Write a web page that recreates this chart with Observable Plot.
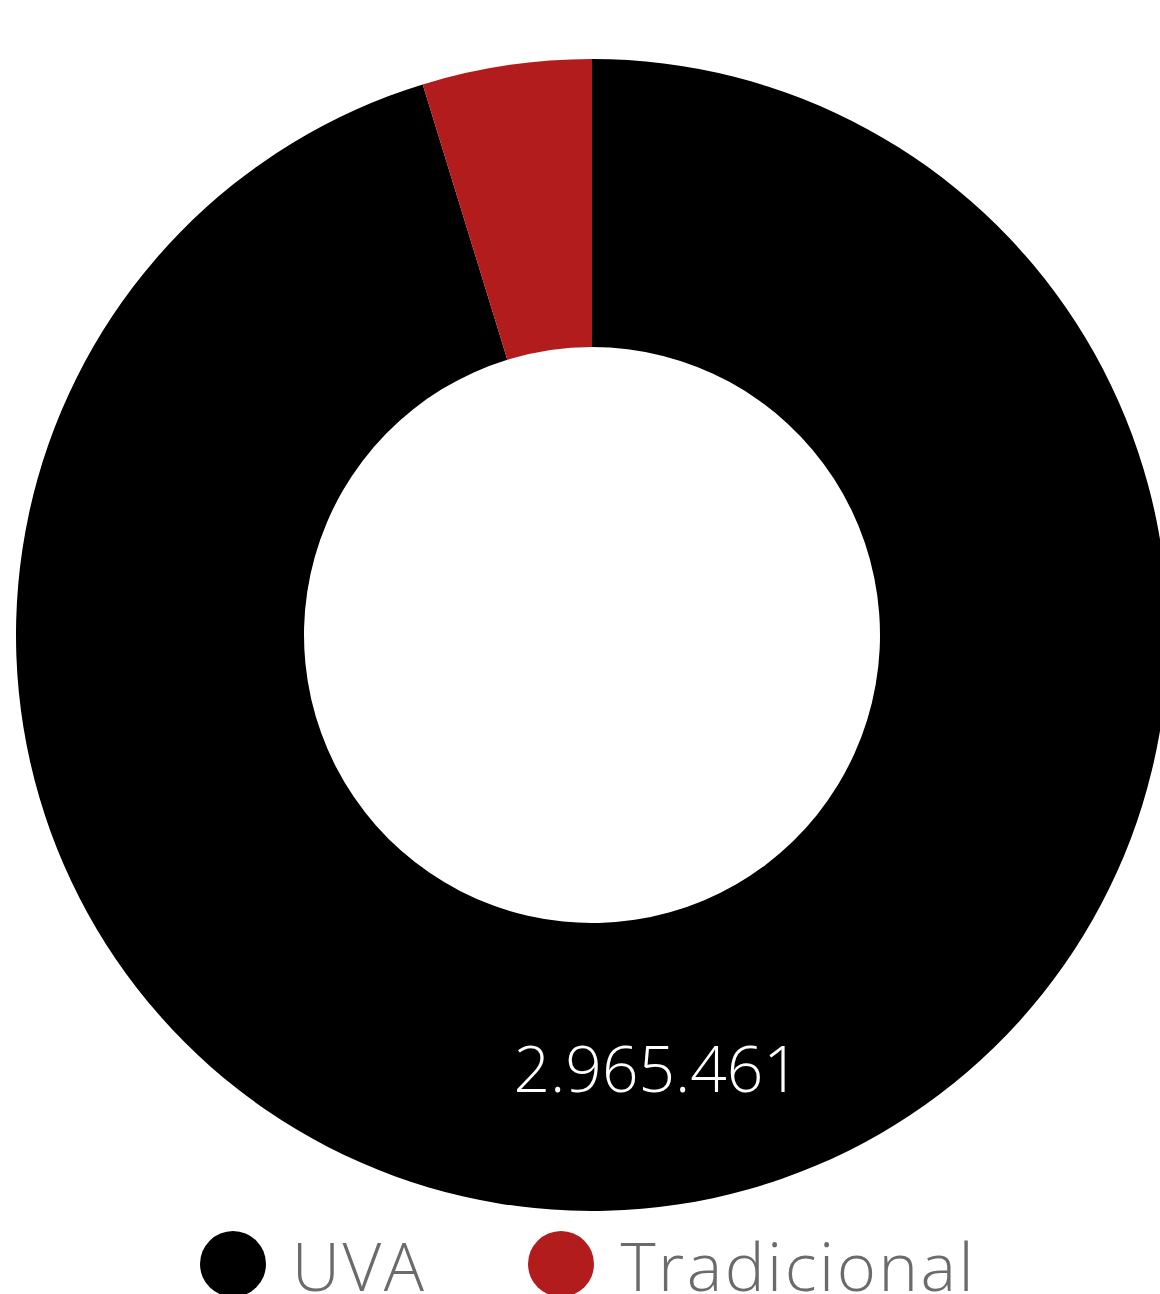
<!DOCTYPE html>
<html>
<head>
<meta charset="utf-8">
<script src="https://cdn.jsdelivr.net/npm/d3@7"></script>
<script src="https://cdn.jsdelivr.net/npm/@observablehq/plot@0.6"></script>
<style>
  html, body { margin: 0; padding: 0; background: #ffffff; overflow: hidden; }
  #chart svg { display: block; overflow: hidden; }
  #legend {
    display: flex; justify-content: center; align-items: center;
    height: 69px; margin-top: 4px; padding-left: 16px;
    font-family: "Open Sans", "Lato", sans-serif; font-weight: 300;
    font-size: 67px; color: #6b6b6b; line-height: 0.8; letter-spacing: 2.5px;
  }
  .item { display: flex; align-items: center; }
  .sw { width: 66px; height: 66px; border-radius: 50%; margin-right: 26px; }
  .item + .item { margin-left: 102px; }
  .item span { position: relative; top: 2px; }
</style>
</head>
<body>
<div id="chart"></div>
<div id="legend"></div>
<script>
// ---- data ----
const categories = ["UVA", "Tradicional"];
const values = [2965461, 147800];
const valueLabels = ["2.965.461", ""];
const colors = ["#000000", "#b31c1c"];

const data = categories.map((c, i) => ({category: c, value: values[i], label: valueLabels[i], color: colors[i]}));

const innerRatio = 0.5;
const arcs = d3.pie().sort(null).value(d => d.value)(data);
const unitArc = d3.arc().innerRadius(innerRatio).outerRadius(1);
const labelData = arcs.map(a => {
  const [cx, cy] = unitArc.centroid(a);
  return {x: cx, y: -cy, label: a.data.label};
}).filter(d => d.label);

function donut(index, scales) {
  const x = scales.x, y = scales.y;
  const cx = x(0), cy = y(0), r = Math.abs(x(1) - x(0));
  const arc = d3.arc().innerRadius(r * innerRatio).outerRadius(r);
  const g = d3.create("svg:g").attr("transform", `translate(${cx},${cy})`);
  g.selectAll("path").data(arcs).join("path")
    .attr("d", arc)
    .attr("fill", d => d.data.color);
  return g.node();
}

const chart = Plot.plot({
  width: 1160,
  height: 1225,
  margin: 0,
  x: {domain: [-1, 1], range: [16, 1168], axis: null},
  y: {domain: [-1, 1], range: [1211, 59], axis: null},
  style: {background: "#ffffff"},
  marks: [
    donut,
    Plot.text(labelData, {
      x: "x", y: "y", text: "label",
      fill: "#ffffff", fontSize: 64, fontWeight: 300,
      fontFamily: "'Open Sans', Lato, sans-serif", dy: 9
    })
  ]
});
document.getElementById("chart").appendChild(chart);

const legend = d3.select("#legend");
data.forEach(d => {
  const it = legend.append("div").attr("class", "item");
  it.append("div").attr("class", "sw").style("background", d.color);
  it.append("span").text(d.category);
});
</script>
</body>
</html>
